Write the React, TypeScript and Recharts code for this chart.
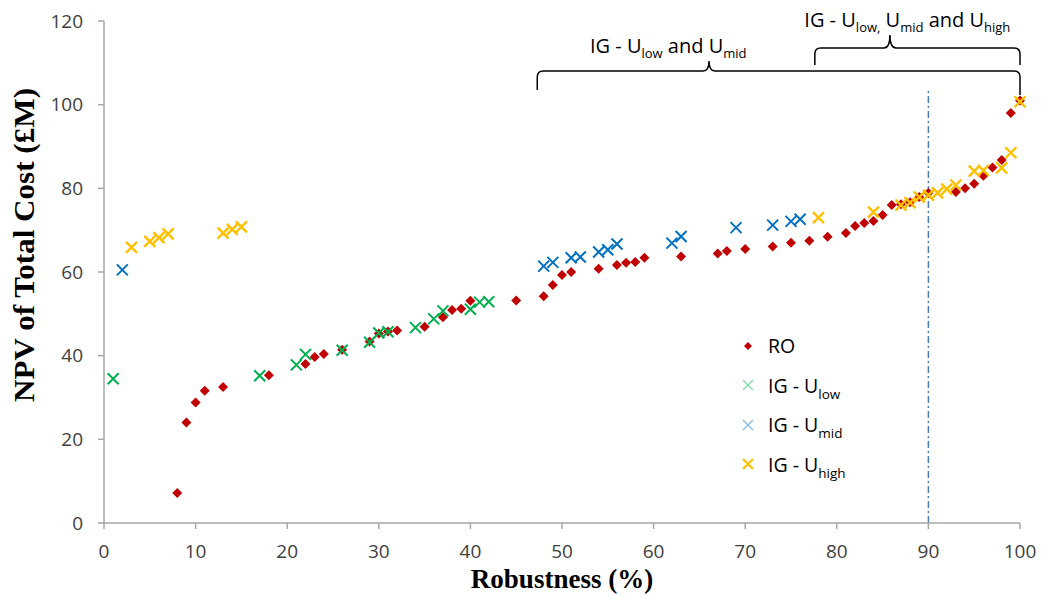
import React from 'react';
import { ScatterChart, Scatter, XAxis, YAxis, ReferenceLine, Legend } from 'recharts';

// ---- data ----
const roX = [8, 9, 10, 11, 13, 18, 22, 23, 24, 26, 29, 30, 31, 32, 35, 37, 38, 39, 40, 45, 48, 49, 50, 51, 54, 56, 57, 58, 59, 63, 67, 68, 70, 73, 75, 77, 79, 81, 82, 83, 84, 85, 86, 87, 88, 89, 90, 93, 94, 95, 96, 97, 98, 99, 100];
const roY = [7.2, 24, 28.8, 31.6, 32.5, 35.3, 38, 39.7, 40.4, 41.4, 43.4, 45.3, 45.8, 46, 46.9, 49.2, 50.9, 51.2, 53.1, 53.2, 54.2, 56.9, 59.3, 60, 60.8, 61.7, 62.2, 62.4, 63.4, 63.7, 64.4, 65, 65.5, 66.1, 67, 67.5, 68.4, 69.3, 71, 71.7, 72.2, 73.6, 76, 76.2, 76.7, 77.9, 78.9, 79.1, 80, 81.1, 83, 85, 86.8, 98, 101];

const lowX = [1, 17, 21, 22, 26, 29, 30, 31, 34, 36, 37, 40, 41, 42];
const lowY = [34.5, 35.2, 37.8, 40.3, 41.3, 43.2, 45.4, 45.7, 46.7, 48.8, 50.7, 51.1, 52.8, 52.9];

const midX = [2, 48, 49, 51, 52, 54, 55, 56, 62, 63, 69, 73, 75, 76];
const midY = [60.5, 61.4, 62.3, 63.4, 63.6, 64.8, 65.3, 66.7, 66.9, 68.5, 70.6, 71.2, 72.1, 72.6];

const highX = [3, 5, 6, 7, 13, 14, 15, 78, 84, 87, 88, 89, 90, 91, 92, 93, 95, 96, 98, 99, 100];
const highY = [65.9, 67.3, 68.2, 69.1, 69.3, 70.2, 70.8, 73, 74.3, 76, 76.6, 77.9, 78.4, 78.9, 79.8, 80.8, 84.1, 84.3, 84.9, 88.5, 100.7];

const xTicks = [0, 10, 20, 30, 40, 50, 60, 70, 80, 90, 100];
const yTicks = [0, 20, 40, 60, 80, 100, 120];

const thresholdX = 90;
const thresholdTop = 104;

// braces (data coordinates for span / tip / label)
const braceBig = { x1: 47.3, x2: 100, y: 108.05, tip: 66.05, labelX: 61.6, dl: 19, dr: 24, h: 10, labelDy: -18 };
const braceSmall = { x1: 77.6, x2: 100, y: 113.55, tip: 85.8, labelX: 87.7, dl: 17, dr: 17, h: 13, labelDy: -21 };

const toPts = (xs: number[], ys: number[]) => xs.map((x, i) => ({ x, y: ys[i] }));
const roData = toPts(roX, roY);
const lowData = toPts(lowX, lowY);
const midData = toPts(midX, midY);
const highData = toPts(highX, highY);

const RED = '#C00000';
const GREEN = '#00B050';
const BLUE = '#0070C0';
const YELLOW = '#FFC000';
const AXIS = '#A6A6A6';
const FONT = '"Open Sans", sans-serif';
const SERIF = '"Liberation Serif", "Times New Roman", serif';

const Diamond = (props: any) => {
  const { cx, cy } = props;
  if (cx == null || cy == null) return null;
  const s = 5;
  return <path d={`M${cx},${cy - s} L${cx + s},${cy} L${cx},${cy + s} L${cx - s},${cy} Z`} fill={RED} />;
};

const makeCross = (color: string, s = 5.5, w = 2) => (props: any) => {
  const { cx, cy } = props;
  if (cx == null || cy == null) return null;
  return (
    <path
      d={`M${cx - s},${cy - s} L${cx + s},${cy + s} M${cx - s},${cy + s} L${cx + s},${cy - s}`}
      stroke={color}
      strokeWidth={w}
      fill="none"
    />
  );
};

const makeBrace = (b: any, label: React.ReactNode) => (props: any) => {
  const { x1, x2, y1 } = props;
  if (x1 == null) return null;
  const px = (xd: number) => x1 + ((xd - b.x1) / (b.x2 - b.x1)) * (x2 - x1);
  const tx = px(b.tip);
  const y = y1;
  const r = 6;
  const d = `M${x1},${y + b.dl} L${x1},${y + r} Q${x1},${y} ${x1 + r},${y} L${tx - r},${y} Q${tx},${y} ${tx},${y - b.h} Q${tx},${y} ${tx + r},${y} L${x2 - r},${y} Q${x2},${y} ${x2},${y + r} L${x2},${y + b.dr}`;
  return (
    <g>
      <path d={d} fill="none" stroke="#000" strokeWidth={1.5} />
      <text x={px(b.labelX)} y={y + b.labelDy} textAnchor="middle" fontFamily={FONT} fontSize={20} fill="#000">
        {label}
      </text>
    </g>
  );
};

const bigLabel = (
  <>
    <tspan>IG - U</tspan>
    <tspan fontSize={13} dy={5}>low</tspan>
    <tspan dy={-5}> and U</tspan>
    <tspan fontSize={13} dy={5}>mid</tspan>
  </>
);
const smallLabel = (
  <>
    <tspan>IG - U</tspan>
    <tspan fontSize={13} dy={5}>low,</tspan>
    <tspan dy={-5}> U</tspan>
    <tspan fontSize={13} dy={5}>mid</tspan>
    <tspan dy={-5}> and U</tspan>
    <tspan fontSize={13} dy={5}>high</tspan>
  </>
);

const legendItems = [
  { key: 'RO', main: 'RO', sub: '', marker: 'diamond', color: RED },
  { key: 'low', main: 'IG - U', sub: 'low', marker: 'x', color: '#7FD9A6' },
  { key: 'mid', main: 'IG - U', sub: 'mid', marker: 'x', color: '#80B6E0' },
  { key: 'high', main: 'IG - U', sub: 'high', marker: 'xb', color: YELLOW },
];

const LegendBox = () => (
  <div style={{ fontFamily: FONT, fontSize: 19.5, color: '#000' }}>
    {legendItems.map((it) => (
      <div key={it.key} style={{ display: 'flex', alignItems: 'center', height: 39.5 }}>
        <svg width={20} height={20} style={{ display: 'block' }}>
          {it.marker === 'diamond' ? (
            <path d="M10,6 L14,10 L10,14 L6,10 Z" fill={it.color} />
          ) : (
            <path
              d="M5,5 L15,15 M5,15 L15,5"
              stroke={it.color}
              strokeWidth={it.marker === 'xb' ? 2.2 : 1.2}
              fill="none"
            />
          )}
        </svg>
        <span style={{ marginLeft: 10, whiteSpace: 'nowrap' }}>
          {it.main}
          {it.sub ? <span style={{ fontSize: 13.5, position: 'relative', top: 6 }}>{it.sub}</span> : null}
        </span>
      </div>
    ))}
  </div>
);

const YTitle = () => (
  <text
    x={34}
    y={245}
    transform="rotate(-90 34 245)"
    textAnchor="middle"
    fontFamily={SERIF}
    fontWeight="bold"
    fontSize={30}
    textLength={314}
    lengthAdjust="spacingAndGlyphs"
    fill="#000"
  >
    NPV of Total Cost (£M)
  </text>
);

const XTitle = () => (
  <text x={562} y={588} textAnchor="middle" fontFamily={SERIF} fontWeight="bold" fontSize={27} fill="#000">
    Robustness (%)
  </text>
);

export default function App() {
  return (
    <div style={{ position: 'fixed', left: 0, top: 0, width: 1041, height: 595, background: '#fff' }}>
      <ScatterChart width={1041} height={595} margin={{ top: 21, right: 21, bottom: 0, left: 0 }}>
        <XAxis
          type="number"
          dataKey="x"
          domain={[0, 100]}
          ticks={xTicks}
          interval={0}
          height={72}
          tickSize={6}
          tickMargin={16}
          stroke={AXIS}
          axisLine={{ stroke: AXIS, strokeWidth: 1.5 }}
          tickLine={{ stroke: AXIS, strokeWidth: 1.5 }}
          tick={{ fontSize: 19, fill: '#404040', fontFamily: FONT }}
          label={{ content: () => <XTitle /> }}
        />
        <YAxis
          type="number"
          dataKey="y"
          domain={[0, 120]}
          ticks={yTicks}
          interval={0}
          width={104}
          tickSize={6}
          tickMargin={15}
          stroke={AXIS}
          axisLine={{ stroke: AXIS, strokeWidth: 1.5 }}
          tickLine={{ stroke: AXIS, strokeWidth: 1.5 }}
          tick={{ fontSize: 19, fill: '#404040', fontFamily: FONT }}
          label={{ content: () => <YTitle /> }}
        />
        <ReferenceLine
          segment={[{ x: thresholdX, y: 0 }, { x: thresholdX, y: thresholdTop }]}
          stroke="#4A7EBB"
          strokeWidth={1.5}
          strokeDasharray="7 3 2 3"
        />
        <ReferenceLine
          segment={[{ x: braceBig.x1, y: braceBig.y }, { x: braceBig.x2, y: braceBig.y }]}
          shape={makeBrace(braceBig, bigLabel)}
        />
        <ReferenceLine
          segment={[{ x: braceSmall.x1, y: braceSmall.y }, { x: braceSmall.x2, y: braceSmall.y }]}
          shape={makeBrace(braceSmall, smallLabel)}
        />
        <Scatter name="RO" data={roData} shape={Diamond} isAnimationActive={false} />
        <Scatter name="IG - Ulow" data={lowData} shape={makeCross(GREEN)} isAnimationActive={false} />
        <Scatter name="IG - Umid" data={midData} shape={makeCross(BLUE)} isAnimationActive={false} />
        <Scatter name="IG - Uhigh" data={highData} shape={makeCross(YELLOW, 5.5, 2.4)} isAnimationActive={false} />
        <Legend
          layout="vertical"
          align="center"
          verticalAlign="middle"
          wrapperStyle={{ position: 'absolute', left: 738, top: 326, width: 180 }}
          content={() => <LegendBox />}
        />
      </ScatterChart>
    </div>
  );
}
